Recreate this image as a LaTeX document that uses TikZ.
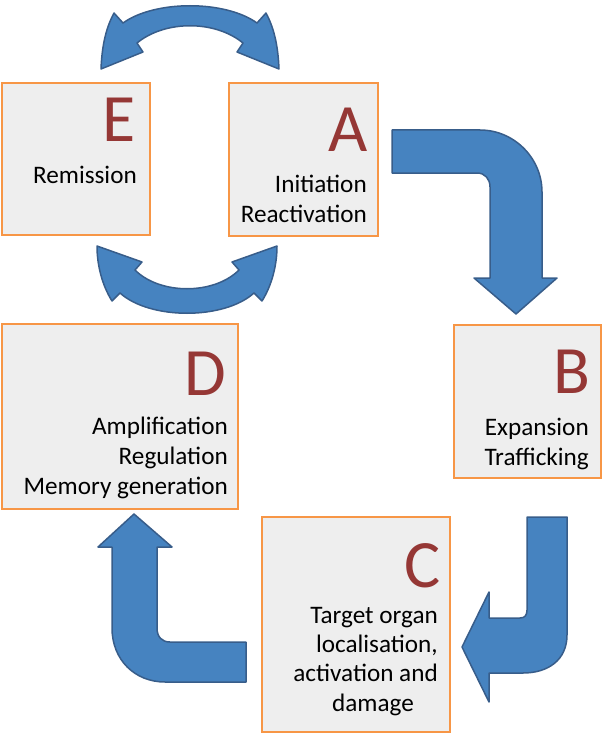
\documentclass[tikz,border=0pt]{standalone}
\usepackage{fontspec}
\setmainfont{Carlito}

\definecolor{boxfill}{HTML}{EEEEEE}
\definecolor{boxline}{HTML}{F79646}
\definecolor{lettercol}{HTML}{953735}
\definecolor{arrowfill}{HTML}{4683C0}
\definecolor{arrowline}{HTML}{385D8A}

\tikzset{
  stagebox/.style={draw=boxline, fill=boxfill, line width=2.5bp, inner sep=0pt},
  stageletter/.style={text=lettercol, font=\fontsize{68}{68}\selectfont, inner sep=0pt, anchor=north east},
  stagetext/.style={font=\fontsize{25.3}{30}\selectfont, align=right, inner sep=0pt, anchor=base east},
  blockarrow/.style={draw=arrowline, fill=arrowfill, line width=1.5bp, line join=round},
}

\begin{document}
\begin{tikzpicture}[x=1bp,y=-1bp]
  \useasboundingbox (0,0) rectangle (603,734);

  % stages
  \node[stagebox, minimum width=148bp, minimum height=152bp] (E) at (76,159) {};
  \node[stagebox, minimum width=149bp, minimum height=153bp] (A) at (303.5,159.5) {};
  \node[stagebox, minimum width=236bp, minimum height=185bp] (D) at (120,416.5) {};
  \node[stagebox, minimum width=147bp, minimum height=153bp] (B) at (527.5,401.5) {};
  \node[stagebox, minimum width=188bp, minimum height=215bp] (C) at (356,624.5) {};

  % letters
  \node[stageletter] (Eletter) at (136,98) {E};
  \node[stageletter] (Aletter) at (368,108) {A};
  \node[stageletter] (Dletter) at (226,352) {D};
  \node[stageletter] (Bletter) at (591,350) {B};
  \node[stageletter] (Cletter) at (441,543) {C};

  % descriptions (anchored at the last baseline)
  \node[stagetext] (Etext) at (137,183) {Remission};
  \node[stagetext] (Atext) at (367,222) {Initiation\\Reactivation};
  \node[stagetext] (Dtext) at (228,494) {Amplification\\Regulation\\Memory generation};
  \node[stagetext] (Btext) at (589,465) {Expansion\\Trafficking};
  \node[stagetext, font=\fontsize{25.3}{29.3}\selectfont] (Ctext) at (438,711)
    {Target organ\\localisation,\\activation and\\damage\hspace*{24bp}};

  % E <-> A, top
  \draw[blockarrow] (101,69) .. controls (102,45) and (106,28) .. (114,13)
    -- (123,23) .. controls (155,0) and (225,0) .. (257,23)
    -- (266,13) .. controls (274,28) and (278,45) .. (279,69)
    -- (237,52) -- (243,43) .. controls (215,20) and (165,20) .. (137,43)
    -- (143,52) -- cycle;

  % E <-> A, bottom
  \draw[blockarrow] (97,246) -- (142,262) -- (135,270)
    .. controls (160,295) and (214,295) .. (239,270)
    -- (232,262) -- (277,246)
    .. controls (277,265) and (272,285) .. (262,301)
    -- (254,293) .. controls (224,320) and (150,320) .. (120,293)
    -- (112,301) .. controls (102,285) and (97,265) .. (97,246) -- cycle;

  % A -> B
  \draw[blockarrow] (392,130) -- (480,130) .. controls (514,130) and (542,158) .. (542,192)
    -- (542,278) -- (557,278) -- (516,314) -- (474,278) -- (490,278) -- (490,187)
    .. controls (490,179) and (485,173) .. (477,173) -- (392,173) -- cycle;

  % B -> C
  \draw[blockarrow] (527,517) -- (567,517) -- (567,635)
    .. controls (567,660) and (548,673) .. (523,673) -- (489,673) -- (489,702)
    -- (462,647) -- (489,592) -- (489,618) -- (520,618)
    .. controls (525,618) and (527,615) .. (527,610) -- cycle;

  % C -> D
  \draw[blockarrow] (134,514) -- (172,547) -- (157,547) -- (157,628)
    .. controls (157,637) and (162,642) .. (170,642) -- (246,642) -- (246,682)
    -- (165,682) .. controls (135,682) and (112,660) .. (112,628)
    -- (112,547) -- (98,547) -- cycle;
\end{tikzpicture}
\end{document}
